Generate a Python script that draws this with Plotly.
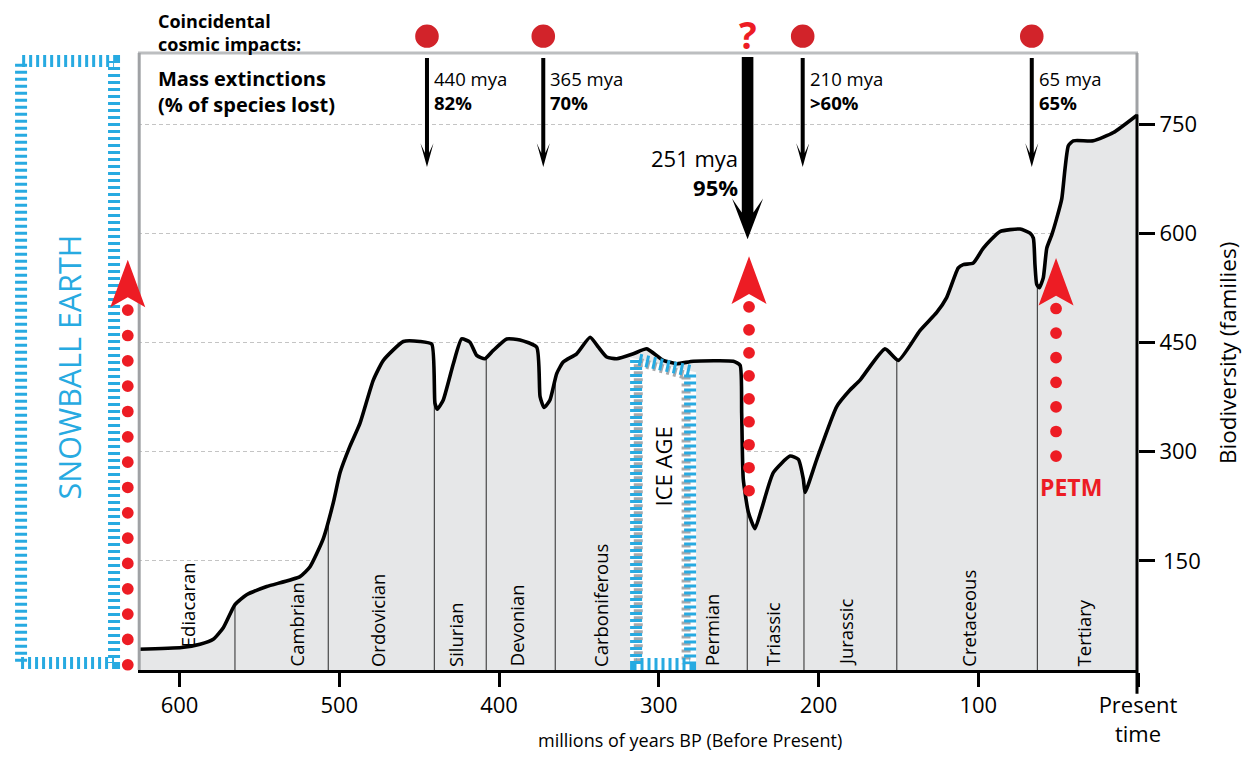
import numpy as np
import plotly.graph_objects as go

# ---------------- data ----------------
age_mya = [626.0, 598.6, 587.2, 578.9, 572.6, 565.3, 558.0, 545.4, 524.6, 518.3,
           510.0, 503.7, 499.5, 493.3, 487.0, 478.7, 472.4, 459.9, 449.5, 442.1,
           440.1, 438.6, 434.9, 428.6, 423.4, 418.2, 414.0, 408.8, 403.6, 395.2,
           386.9, 376.4, 374.3, 371.8, 368.1, 363.9, 359.8, 351.4, 343.0, 337.8,
           332.6, 326.3, 315.9, 307.5, 297.2, 288.8, 278.4, 253.3, 249.1, 248.1,
           247.1, 243.9, 239.8, 235.6, 228.3, 217.8, 212.6, 209.5, 208.4, 201.1,
           188.6, 180.3, 174.0, 158.4, 150.0, 136.5, 126.0, 119.8, 112.5, 109.4,
           103.1, 96.8, 86.4, 73.8, 67.6, 65.5, 64.5, 63.4, 61.8, 59.3,
           57.1, 54.0, 50.9, 47.7, 45.7, 43.6, 40.5, 28.0, 15.4, 0.0]
families = [28.6, 30.9, 35.4, 42.2, 58.1, 89.8, 103.4, 114.7, 128.4, 142.0,
            180.6, 230.4, 271.3, 307.6, 339.3, 398.4, 425.6, 451.5, 451.5, 447.8,
            366.6, 358.4, 371.2, 421.0, 455.0, 450.5, 432.4, 427.8, 439.2, 455.0,
            453.7, 443.7, 375.7, 360.7, 371.2, 407.4, 423.3, 434.6, 457.3, 443.7,
            430.1, 427.8, 434.6, 441.4, 425.6, 421.0, 424.3, 424.3, 418.8, 352.9,
            262.3, 216.8, 194.2, 221.5, 271.3, 294.0, 289.5, 262.3, 244.1, 289.5,
            362.1, 384.8, 398.4, 441.4, 425.6, 466.5, 491.4, 511.8, 552.6, 557.1,
            559.4, 579.9, 602.6, 606.1, 600.3, 593.5, 557.1, 529.9, 525.4, 539.0,
            579.9, 598.0, 620.7, 647.9, 688.7, 720.5, 727.3, 727.3, 738.7, 763.6]

period_names = ["Ediacaran", "Cambrian", "Ordovician", "Silurian", "Devonian",
                "Carboniferous", "Permian", "Triassic", "Jurassic", "Cretaceous", "Tertiary"]
period_label_x = [595.3, 526.5, 476.4, 427.6, 388.9, 336.8, 267.3, 228.7, 183.4, 106.6, 34.2]
period_label_base = [28, 2, 2, 2, 2, 2, 2, 2, 2, 2, 2]
period_bounds = [565.3, 506.9, 440.5, 408.0, 364.8, 244.6, 209.1, 151.0, 63.0]

ext_x = [445.1, 372.3, 244.4, 209.9, 66.5]
ext_age = ["440 mya", "365 mya", "251 mya", "210 mya", "65 mya"]
ext_loss = ["82%", "70%", "95%", ">60%", "65%"]
ext_major = [False, False, True, False, False]
impact_x = [445.1, 372.3, 209.9, 66.5]
unknown_impact_x = 244.4

warm_x = [632.4, 243.5, 51.3]
warm_low = [7.2, 246.4, 294.0]
warm_high = [494.5, 499.1, 496.8]
warm_n = [15, 9, 7]

snowball_span = [699.2, 641.0]
ice_age_span = [314.2, 280.4]
ice_age_top = [427.4, 411.1]

x_tickvals = [600, 500, 400, 300, 200, 100, 0]
x_ticktext = ["600", "500", "400", "300", "200", "100", "Present<br>time"]
y_tickvals = [150, 300, 450, 600, 750]
y_ticktext = ["\u2009150", "300", "450", "600", "750"]

# ---------------- geometry helpers ----------------
OFF = 8  # default page margin of the html body
FIG_W, FIG_H = 1256 - OFF, 760 - OFF
XR = [626, 0]
YR = [0, 848]
L, R, T, B = 138, 1138, 53, 676  # plot area in page pixels
W, H = R - L, B - T


def x2px(v):
    return L + (XR[0] - v) / (XR[0] - XR[1]) * W


def y2px(v):
    return B - (v - YR[0]) / (YR[1] - YR[0]) * H


def pxX(p):
    return (p - L) / W


def pxY(p):
    return (B - p) / H


def poly(pts):
    return "M " + " L ".join(f"{pxX(x):.5f},{pxY(y):.5f}" for x, y in pts) + " Z"


BLUE = "#27aae1"
RED = "#ed1c24"
DRED = "#d2232a"
FONT = "Open Sans"

shapes = []
annotations = []


def ann(text, px, py, size, color="black", xanchor="left", yanchor="middle", angle=0,
        align=None):
    annotations.append(dict(text=text, x=pxX(px), y=pxY(py), xref="paper", yref="paper",
                            showarrow=False, xanchor=xanchor, yanchor=yanchor,
                            align=align or ("center" if xanchor == "center" else xanchor),
                            textangle=angle, font=dict(family=FONT, size=size, color=color)))


# ---------------- traces ----------------
fig = go.Figure()
fig.add_trace(go.Scatter(x=age_mya, y=families, mode="lines", fill="tozeroy",
                         fillcolor="#e6e7e8", line=dict(width=0, shape="spline", smoothing=0.5),
                         hoverinfo="skip"))
xs_inc = age_mya[::-1]
ys_inc = families[::-1]
bx, by = [], []
for b in period_bounds:
    top = float(np.interp(b, xs_inc, ys_inc))
    bx += [b, b, None]
    by += [0, top, None]
fig.add_trace(go.Scatter(x=bx, y=by, mode="lines", line=dict(color="#3a3a3a", width=1.1),
                         hoverinfo="skip"))
fig.add_trace(go.Scatter(x=age_mya, y=families, mode="lines",
                         line=dict(color="black", width=3.6, shape="spline", smoothing=0.5),
                         hoverinfo="skip"))

# period labels
for name, lx, base in zip(period_names, period_label_x, period_label_base):
    annotations.append(dict(text=name, x=lx, y=base, xref="x", yref="y", showarrow=False,
                            textangle=-90, xanchor="center", yanchor="bottom",
                            font=dict(family=FONT, size=18.5, color="black")))

# ---------------- frame ----------------
end_val = families[-1]
shapes.append(dict(type="line", xref="paper", yref="paper", x0=0, x1=1, y0=1, y1=1,
                   line=dict(color="#bcbec0", width=3), layer="above"))
shapes.append(dict(type="line", xref="paper", yref="paper", x0=0.0012, x1=0.0012, y0=0, y1=1,
                   line=dict(color="#a0a2a5", width=3), layer="above"))
shapes.append(dict(type="line", xref="paper", yref="paper", x0=0.999, x1=0.999,
                   y0=pxY(y2px(end_val)), y1=1, line=dict(color="#a0a2a5", width=3), layer="above"))
shapes.append(dict(type="line", xref="paper", yref="paper", x0=0.999, x1=0.999,
                   y0=pxY(B + 24), y1=pxY(y2px(end_val)), line=dict(color="black", width=3),
                   layer="above"))

# ---------------- ice age box ----------------
iL, iR = ice_age_span
tL, tR = ice_age_top
xl_out, xr_out = iL + 6 / 1.5974, iR - 6 / 1.5974
shapes.append(dict(type="path", xref="x", yref="y",
                   path=f"M {xl_out},0 L {xl_out},{tL + 2} L {xr_out},{tR - 2} L {xr_out},0 Z",
                   fillcolor="white", line=dict(width=0), layer="above"))
gL, gR = iL - 2.2 / 1.5974, iR + 4 / 1.5974
shapes.append(dict(type="path", xref="x", yref="y",
                   path=f"M {gL},8 L {gL},{tL - 4} L {gR},{tR - 6} L {gR},8",
                   line=dict(color="#a7a9ac", width=9, dash="0px,3px,3px,1px"), layer="above"))
shapes.append(dict(type="path", xref="x", yref="y",
                   path=f"M {iL},8.2 L {iL},{tL} L {iR},{tR} L {iR},8.2 Z",
                   line=dict(color=BLUE, width=12, dash="3px,4px"), layer="above"))
annotations.append(dict(text="ICE AGE", x=297.1, y=280.4, xref="x", yref="y", showarrow=False,
                        textangle=-90, font=dict(family=FONT, size=22, color="black")))

# ---------------- snowball earth ----------------
sA, sB = snowball_span
shapes.append(dict(type="rect", xref="paper", yref="paper",
                   x0=pxX(x2px(sA)), x1=pxX(x2px(sB)), y0=pxY(669), y1=pxY(61),
                   line=dict(color=BLUE, width=12, dash="3px,4px")))
ann("SNOWBALL EARTH", 68.5, 370, 30.5, color=BLUE, xanchor="center", angle=-90)

# ---------------- warming (red dotted arrows) ----------------
for wx, lo, hi, n in zip(warm_x, warm_low, warm_high, warm_n):
    cx = x2px(wx)
    for v in np.linspace(lo, hi, n):
        cy = y2px(v)
        r = 5.9
        shapes.append(dict(type="circle", xref="paper", yref="paper",
                           x0=pxX(cx - r), x1=pxX(cx + r), y0=pxY(cy + r), y1=pxY(cy - r),
                           fillcolor=RED, line=dict(width=0), layer="above"))
    top = y2px(hi)
    shapes.append(dict(type="path", xref="paper", yref="paper",
                       path=poly([(cx, top - 51), (cx + 17.5, top - 3), (cx, top - 13),
                                  (cx - 17.5, top - 3)]),
                       fillcolor=RED, line=dict(width=0), layer="above"))
ann("<b>PETM</b>", x2px(warm_x[2]) + 15, 491, 23, color=RED, xanchor="center")

# ---------------- cosmic impacts ----------------
for ix in impact_x:
    cx = x2px(ix)
    r = 11.8
    shapes.append(dict(type="circle", xref="paper", yref="paper",
                       x0=pxX(cx - r), x1=pxX(cx + r), y0=pxY(36 + r), y1=pxY(36 - r),
                       fillcolor=DRED, line=dict(width=0)))
ann("<b>?</b>", x2px(unknown_impact_x), 34.5, 37, color=RED, xanchor="center")
ann("<b>Coincidental<br>cosmic impacts:</b>", 156, 32, 18, align="left")

# ---------------- mass extinctions ----------------
ann("<b>Mass extinctions<br>(% of species lost)</b>", 156, 91.5, 20, align="left")
for ex, age, loss, major in zip(ext_x, ext_age, ext_loss, ext_major):
    cx = x2px(ex)
    if major:
        pts = [(cx - 5.8, 57), (cx + 5.8, 57), (cx + 5.8, 214), (cx + 15.5, 200), (cx, 241),
               (cx - 15.5, 200), (cx - 5.8, 214)]
        ann(f"{age}<br><b>{loss}</b>", cx - 8, 174, 22, xanchor="right", align="right")
    else:
        pts = [(cx - 2, 58), (cx + 2, 58), (cx + 2, 154), (cx + 6.5, 144), (cx, 168),
               (cx - 6.5, 144), (cx - 2, 154)]
        ann(f"{age}<br><b>{loss}</b>", cx + 5, 91, 18.5, align="left")
    shapes.append(dict(type="path", xref="paper", yref="paper", path=poly(pts),
                       fillcolor="black", line=dict(width=0), layer="above"))

# axis titles
ann("millions of years BP (Before Present)", 690, 747, 18, xanchor="center")
ann("Biodiversity (families)", 1227, 356, 22.5, xanchor="center", angle=-90)

fig.update_layout(
    width=FIG_W, height=FIG_H,
    margin=dict(l=L - OFF, r=FIG_W - (R - OFF), t=T - OFF, b=FIG_H - (B - OFF)),
    paper_bgcolor="white", plot_bgcolor="white",
    showlegend=False, hovermode=False,
    font=dict(family=FONT, color="black"),
    shapes=shapes, annotations=annotations,
    xaxis=dict(range=XR, showgrid=False, zeroline=False, showline=True, linecolor="black",
               linewidth=3, ticks="outside", ticklen=14, tickwidth=2.5, tickcolor="black",
               tickvals=x_tickvals, ticktext=x_ticktext,
               tickfont=dict(family=FONT, size=22, color="black")),
    yaxis=dict(range=YR, side="right", showgrid=True, gridcolor="#c4c4c4", gridwidth=1,
               griddash="4px,3px", zeroline=False, showline=False, ticks="outside",
               ticklen=16, tickwidth=2.5, tickcolor="black",
               tickvals=y_tickvals, ticktext=y_ticktext,
               tickfont=dict(family=FONT, size=22, color="black")),
)

fig.write_html("out.html")
